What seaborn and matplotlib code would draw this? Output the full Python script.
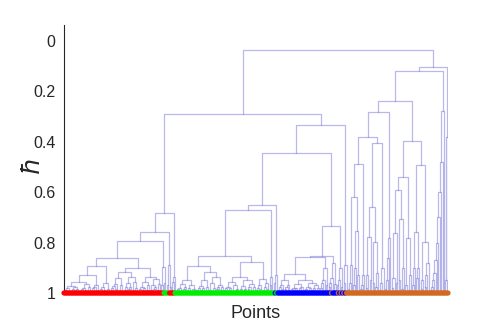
import pandas as pd
import seaborn as sns
import matplotlib.pyplot as plt


def chain(cls, *hs):
    # leaves of one class merged one after another at the given heights
    node = cls[0]
    for c, h in zip(cls[1:], hs):
        node = (h, node, c)
    return node


# Leaf classes and merge heights (hbar)
class_colors = {'r': '#ff0000', 'g': '#00ee00', 'b': '#0000ff', 'o': '#d2691e'}

# red cluster
red_a1 = (0.972, (0.982, chain("rrr", 0.995, 0.988), chain("rr", 0.992)),
          (0.978, chain("rrr", 0.993, 0.985), (0.986, chain("rr", 0.99), chain("rr", 0.996))))
red_a2 = (0.965, (0.98, chain("rrr", 0.994, 0.986), chain("rr", 0.99)), chain("rrr", 0.992, 0.975))
red_b = (0.97, chain("rrrr", 0.993, 0.982, 0.976), chain("rr", 0.988))
red_1b = (0.96, (0.975, chain("rrr", 0.994, 0.985), chain("rr", 0.99)), chain("rrr", 0.992, 0.985))
red_1 = (0.892, (0.93, (0.958, red_a1, red_a2), red_b), red_1b)
red_2a = (0.916, (0.94, (0.965, chain("rrrr", 0.99, 0.98, 0.972), chain("rr", 0.985)),
                  (0.97, chain("rr", 0.99), chain("rr", 0.995))),
          (0.935, (0.96, chain("rrr", 0.99, 0.975), chain("rrr", 0.985, 0.978)),
           (0.955, chain("rr", 0.99), chain("rr", 0.98))))
red_2b = (0.935, (0.955, (0.975, chain("rrr", 0.995, 0.985), chain("rrr", 0.99, 0.982)), chain("rrr", 0.99, 0.97)),
          (0.945, (0.97, chain("rr", 0.99), chain("rrr", 0.985, 0.978)), chain("rrr", 0.99, 0.965)))
red_main = (0.863, red_1, (0.9, red_2a, red_2b))
stick_r3 = (0.896, chain("rr", 0.97), chain("gg", 0.96))
stick_r2 = (0.89, chain("gg", 0.97), chain("rr", 0.975))
stick_r1 = chain("rrg", 0.955, 0.935)
red_tree = (0.683, (0.76, (0.793, red_main, stick_r3), stick_r2), stick_r1)

# green cluster
green_1a = (0.949, (0.965, (0.98, chain("ggg", 0.993, 0.985), chain("gg", 0.99)), chain("ggg", 0.985, 0.975)),
            (0.97, chain("ggg", 0.992, 0.98), (0.985, chain("gg", 0.995), chain("gg", 0.99))))
green_1b = (0.918, (0.95, (0.972, chain("ggg", 0.99, 0.982), chain("ggg", 0.988, 0.98)), chain("ggg", 0.992, 0.975)),
            (0.935, (0.96, chain("gg", 0.99), chain("ggg", 0.994, 0.98)),
             (0.968, chain("ggg", 0.985, 0.975), chain("ggg", 0.99, 0.978))))
green_2a = (0.938, (0.955, (0.975, chain("ggg", 0.99, 0.98), chain("ggg", 0.988, 0.982)),
                    (0.97, chain("gg", 0.992), chain("ggg", 0.99, 0.983))),
            (0.948, (0.972, chain("ggg", 0.993, 0.985), chain("ggg", 0.99, 0.984)),
             (0.965, chain("ggg", 0.985, 0.975), chain("ggg", 0.992, 0.978))))
green_2b = (0.945, (0.97, chain("ggg", 0.99, 0.98), chain("gg", 0.985)),
            (0.96, chain("ggg", 0.99, 0.975), chain("gg", 0.985)))
green_main = (0.854, (0.892, green_1a, green_1b), (0.876, green_2a, green_2b))
stick_g1 = chain("ggg", 0.97, 0.935)
stick_g2 = chain("gbg", 0.96, 0.93)

# blue cluster
blue_1 = (0.949, (0.97, chain("bbb", 0.99, 0.975), chain("bb", 0.985)), chain("bbbb", 0.985, 0.978, 0.97))
blue_2 = (0.95, (0.965, (0.98, chain("bbb", 0.993, 0.985), chain("bbb", 0.99, 0.982)),
                 chain("bbbb", 0.99, 0.982, 0.975)),
          (0.96, (0.975, chain("bbb", 0.99, 0.984), chain("bbb", 0.994, 0.982)),
           (0.97, chain("bbb", 0.988, 0.98), chain("bbb", 0.992, 0.98))))
blue_s1 = (0.9, chain("bbbb", 0.98, 0.96, 0.95), chain("bb", 0.97))
blue_s2 = (0.88, chain("bbob", 0.975, 0.96, 0.94), chain("bb", 0.965))
blue_tree = (0.852, (0.856, (0.925, blue_1, blue_2), blue_s1), blue_s2)
mixed_1 = (0.9, chain("bob", 0.97, 0.95), chain("ob", 0.975))
mixed_2 = chain("obo", 0.96, 0.89)

# orange cluster
o5 = (0.49, (0.62, chain("oooo", 0.985, 0.96, 0.89),
             (0.755, chain("ooo", 0.97, 0.9), chain("oo", 0.93))),
      chain("oooo", 0.985, 0.97, 0.93))
o6 = (0.406, (0.66, (0.776, chain("ooo", 0.98, 0.93), chain("oo", 0.95)),
              (0.797, chain("oo", 0.96), chain("ooo", 0.975, 0.92))),
      chain("oooo", 0.99, 0.96, 0.9))
o_s1 = chain("ooooo", 0.985, 0.95, 0.86, 0.78)
l1 = (0.54, (0.59, (0.762, chain("ooo", 0.98, 0.94), chain("oo", 0.96)),
             (0.705, chain("oo", 0.95), chain("ooo", 0.985, 0.9))),
      (0.78, chain("oo", 0.97), chain("ooo", 0.99, 0.93)))
l2 = (0.491, (0.758, chain("ooo", 0.97, 0.9), chain("ooo", 0.94, 0.9)),
      (0.797, chain("ooo", 0.985, 0.95), chain("oooo", 0.975, 0.93, 0.88)))
o_s2 = chain("ooooooooooo", 0.99, 0.975, 0.95, 0.92, 0.87, 0.8, 0.7, 0.6, 0.48, 0.28)
o_s3 = chain("ooo", 0.95, 0.38)
orange_tree = (0.105, (0.119, (0.237, (0.283, (0.382, o5, o6), o_s1), (0.399, l1, l2)), o_s2), o_s3)

# top of the tree
green_blue = (0.444, (0.649, (0.672, green_main, stick_g1), stick_g2), (0.735, blue_tree, mixed_1))
root = (0.036, (0.29, red_tree, (0.332, green_blue, mixed_2)), orange_tree)


def layout(node, leaves, links):
    if isinstance(node, str):
        leaves.append(node)
        return len(leaves) - 1, 1.0
    h, left, right = node
    xl, hl = layout(left, leaves, links)
    xr, hr = layout(right, leaves, links)
    k = len(links)
    links += [(k, xl, hl), (k, xl, h), (k, xr, h), (k, xr, hr)]
    return (xl + xr) / 2, h


leaves, links = [], []
layout(root, leaves, links)
df_links = pd.DataFrame(links, columns=['link', 'x', 'h'])
df_leaves = pd.DataFrame({'x': range(len(leaves)), 'h': 1.0, 'cls': leaves})

# Plot
sns.set_style('white')
plt.rcParams['font.family'] = ['Liberation Sans', 'DejaVu Sans']

fig = plt.figure(figsize=(4.95, 3.3), dpi=100)
ax = fig.add_axes([64 / 495, 37 / 330, 384 / 495, 268 / 330])

sns.lineplot(data=df_links, x='x', y='h', units='link', estimator=None, sort=False,
             color=(0.45, 0.45, 0.85), alpha=0.5, lw=0.9, ax=ax)
sns.scatterplot(data=df_leaves, x='x', y='h', hue='cls', palette=class_colors, s=14,
                linewidth=0, legend=False, ax=ax, clip_on=False, zorder=5)

ax.set_xlim(0, len(leaves) - 1)
ax.set_ylim(1.0, -0.063)
ax.set_yticks([0, 0.2, 0.4, 0.6, 0.8, 1])
ax.set_yticklabels(['0', '0.2', '0.4', '0.6', '0.8', '1'])
ax.set_xticks([])
ax.tick_params(axis='y', direction='in', length=3, width=0.8, labelsize=11.5,
               colors='#262626', pad=6)
for s in ['top', 'right', 'bottom']:
    ax.spines[s].set_visible(False)
ax.spines['left'].set_color('#262626')
ax.spines['left'].set_linewidth(0.8)
ax.set_xlabel('Points', fontsize=13, color='#262626', labelpad=9)
ax.set_ylabel(r'$\hbar$', fontsize=18, color='#262626')
ax.yaxis.set_label_coords(-0.05, 0.47)

fig.savefig('out.png', dpi=100)
